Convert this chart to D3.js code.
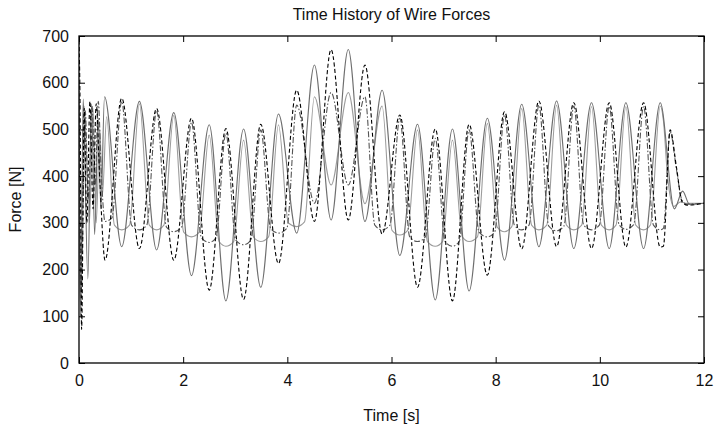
<!DOCTYPE html>
<html>
<head>
<meta charset="utf-8">
<script src="https://cdn.jsdelivr.net/npm/d3@7"></script>
<style>
  html, body { margin: 0; padding: 0; background: #fff; }
  svg { display: block; font-family: "Liberation Sans", Arial, Helvetica, sans-serif; }
</style>
</head>
<body>
<svg id="chart" width="714" height="430"></svg>
<script>
// Wire force time histories [time s, force N]
const wireA = [
  [0.00, 555], [0.03, 100], [0.08, 565], [0.17, 180], [0.24, 555], [0.30, 275], [0.37, 525], [0.42, 330], [0.49, 570],
  [0.82, 249], [1.16, 560], [1.49, 242], [1.82, 536], [2.16, 187], [2.50, 510], [2.82, 133], [3.16, 501], [3.49, 162],
  [3.83, 533], [4.18, 278], [4.52, 638], [4.84, 306], [5.17, 671], [5.49, 303], [5.82, 584], [6.16, 230], [6.50, 511],
  [6.84, 135], [7.17, 501], [7.49, 154], [7.84, 524], [8.17, 220], [8.50, 554], [8.83, 249], [9.17, 561], [9.50, 245],
  [9.84, 557], [10.18, 245], [10.50, 557], [10.84, 245], [11.16, 557], [11.43, 330], [11.59, 368], [11.72, 340], [12.00, 342]
];
const wireB = [
  [0.00, 530], [0.02, 130], [0.10, 550], [0.20, 300], [0.27, 545], [0.33, 300], [0.40, 500], [0.45, 360], [0.53, 527],
  [0.68, 295], [0.82, 285], [0.97, 295], [1.16, 555], [1.35, 295], [1.49, 285], [1.63, 295], [1.82, 530], [2.01, 280],
  [2.16, 270], [2.31, 280], [2.50, 488], [2.69, 260], [2.82, 250], [2.97, 260], [3.16, 477], [3.35, 270], [3.49, 260],
  [3.64, 270], [3.83, 510], [4.02, 300], [4.18, 292], [4.33, 302], [4.52, 570], [4.84, 381],
  [5.17, 579], [5.49, 341], [5.82, 550], [6.01, 284], [6.16, 274], [6.31, 284], [6.50, 499],
  [6.69, 260], [6.84, 250], [6.98, 260], [7.17, 477], [7.36, 270], [7.49, 260], [7.65, 270], [7.84, 513], [8.03, 291],
  [8.17, 281], [8.31, 292], [8.50, 545], [8.69, 295], [8.83, 285], [8.98, 295], [9.17, 552], [9.36, 295], [9.50, 285],
  [9.65, 295], [9.84, 549], [10.03, 295], [10.18, 285], [10.31, 295], [10.50, 549], [10.69, 295], [10.84, 285],
  [10.97, 295], [11.16, 550], [11.22, 520], [11.30, 400], [11.42, 335], [11.55, 345], [11.65, 342], [12.00, 342]
];
const wireC = [
  [0.00, 690], [0.02, 560], [0.05, 72], [0.10, 545], [0.15, 300], [0.21, 560], [0.27, 330], [0.33, 555], [0.40, 390],
  [0.50, 220], [0.82, 567], [1.16, 245], [1.49, 545], [1.82, 220], [2.16, 524], [2.50, 156], [2.82, 502], [3.16, 136],
  [3.49, 511], [3.83, 213], [4.18, 584], [4.52, 303], [4.84, 671], [5.17, 306], [5.49, 638], [5.82, 276], [6.16, 531],
  [6.50, 162], [6.84, 501], [7.17, 133], [7.49, 511], [7.84, 188], [8.17, 538], [8.50, 244], [8.83, 561], [9.17, 249],
  [9.50, 557], [9.84, 245], [10.18, 557], [10.50, 248], [10.84, 557], [11.16, 248], [11.22, 250], [11.35, 499],
  [11.47, 420], [11.58, 345], [11.68, 338], [12.00, 342]
];
const wireD = [
  [0.00, 600], [0.04, 150], [0.12, 540], [0.18, 350], [0.25, 550], [0.31, 380], [0.37, 560], [0.43, 400], [0.50, 303],
  [0.63, 310], [0.82, 560], [1.01, 295], [1.16, 285], [1.30, 295], [1.49, 540], [1.68, 291], [1.82, 281], [1.97, 291],
  [2.16, 515], [2.35, 268], [2.50, 258], [2.63, 268], [2.82, 492], [3.01, 263], [3.16, 253], [3.30, 263], [3.49, 499],
  [3.68, 288], [3.83, 278], [3.99, 288], [4.18, 552], [4.52, 342], [4.84, 579],
  [5.17, 381], [5.49, 570], [5.68, 295], [5.82, 285], [5.97, 295], [6.16, 524], [6.35, 270], [6.50, 260],
  [6.65, 270], [6.84, 481], [7.03, 260], [7.17, 250], [7.30, 260], [7.49, 499], [7.68, 280], [7.84, 270], [7.98, 280],
  [8.17, 531], [8.36, 295], [8.50, 285], [8.64, 295], [8.83, 552], [9.02, 293], [9.17, 283], [9.31, 293], [9.50, 550],
  [9.69, 295], [9.84, 285], [9.99, 295], [10.18, 549], [10.37, 296], [10.50, 286], [10.65, 296], [10.84, 549],
  [11.03, 295], [11.16, 285], [11.22, 288], [11.35, 495], [11.47, 415], [11.58, 348], [11.68, 340], [12.00, 342]
];

const xTicks = [0, 2, 4, 6, 8, 10, 12];
const yTicks = [0, 100, 200, 300, 400, 500, 600, 700];

const titleText = "Time History of Wire Forces";
const xLabel = "Time [s]";
const yLabel = "Force [N]";

const W = 714, H = 430;
const m = { left: 79, right: 10, top: 36, bottom: 67 };

const svg = d3.select("#chart");
svg.append("rect").attr("width", W).attr("height", H).attr("fill", "#fff");

const x = d3.scaleLinear().domain([0, 12]).range([m.left, W - m.right]);
const y = d3.scaleLinear().domain([0, 700]).range([H - m.bottom, m.top]);

svg.append("clipPath").attr("id", "plot-clip")
  .append("rect")
  .attr("x", x(0)).attr("y", y(700))
  .attr("width", x(12) - x(0)).attr("height", y(0) - y(700));

// series styles
const series = [
  { data: wireB, color: "#9c9c9c", width: 1.1, dash: null },
  { data: wireA, color: "#6e6e6e", width: 1.1, dash: null },
  { data: wireD, color: "#555555", width: 1.1, dash: "6,2,1.5,2" },
  { data: wireC, color: "#000000", width: 1.1, dash: "4,2.5" }
];

const line = d3.line()
  .x(d => x(d[0]))
  .y(d => y(d[1]))
  .curve(d3.curveMonotoneX);

const plot = svg.append("g").attr("clip-path", "url(#plot-clip)");
series.forEach(s => {
  plot.append("path")
    .datum(s.data)
    .attr("fill", "none")
    .attr("stroke", s.color)
    .attr("stroke-width", s.width)
    .attr("stroke-dasharray", s.dash)
    .attr("stroke-linejoin", "round")
    .attr("d", line);
});

// axes with inward ticks on all four sides
const fontSize = 16;
const styleAxis = g => {
  g.select(".domain").remove();
  g.selectAll(".tick line").attr("stroke", "#000").attr("stroke-width", 1);
  g.selectAll(".tick text").attr("fill", "#111").style("font-size", fontSize + "px");
};

svg.append("g")
  .attr("transform", `translate(0,${y(0)})`)
  .call(d3.axisBottom(x).tickValues(xTicks).tickFormat(d3.format("d")).tickSize(-6).tickPadding(12))
  .call(styleAxis);

svg.append("g")
  .attr("transform", `translate(${x(0)},0)`)
  .call(d3.axisLeft(y).tickValues(yTicks).tickFormat(d3.format("d")).tickSize(-6).tickPadding(10))
  .call(styleAxis);

svg.append("g")
  .attr("transform", `translate(0,${y(700)})`)
  .call(d3.axisTop(x).tickValues(xTicks).tickFormat("").tickSize(-6))
  .call(styleAxis);

svg.append("g")
  .attr("transform", `translate(${x(12)},0)`)
  .call(d3.axisRight(y).tickValues(yTicks).tickFormat("").tickSize(-6))
  .call(styleAxis);

// frame
svg.append("rect")
  .attr("x", x(0)).attr("y", y(700))
  .attr("width", x(12) - x(0)).attr("height", y(0) - y(700))
  .attr("fill", "none").attr("stroke", "#000").attr("stroke-width", 1.3);

// titles
svg.append("text")
  .attr("x", (x(0) + x(12)) / 2).attr("y", 20)
  .attr("text-anchor", "middle")
  .style("font-size", "16px").attr("fill", "#111")
  .text(titleText);

svg.append("text")
  .attr("x", (x(0) + x(12)) / 2).attr("y", 421)
  .attr("text-anchor", "middle")
  .style("font-size", "16px").attr("fill", "#111")
  .text(xLabel);

svg.append("text")
  .attr("transform", `translate(21,${(y(0) + y(700)) / 2}) rotate(-90)`)
  .attr("text-anchor", "middle")
  .style("font-size", "16px").attr("fill", "#111")
  .text(yLabel);
</script>
</body>
</html>
